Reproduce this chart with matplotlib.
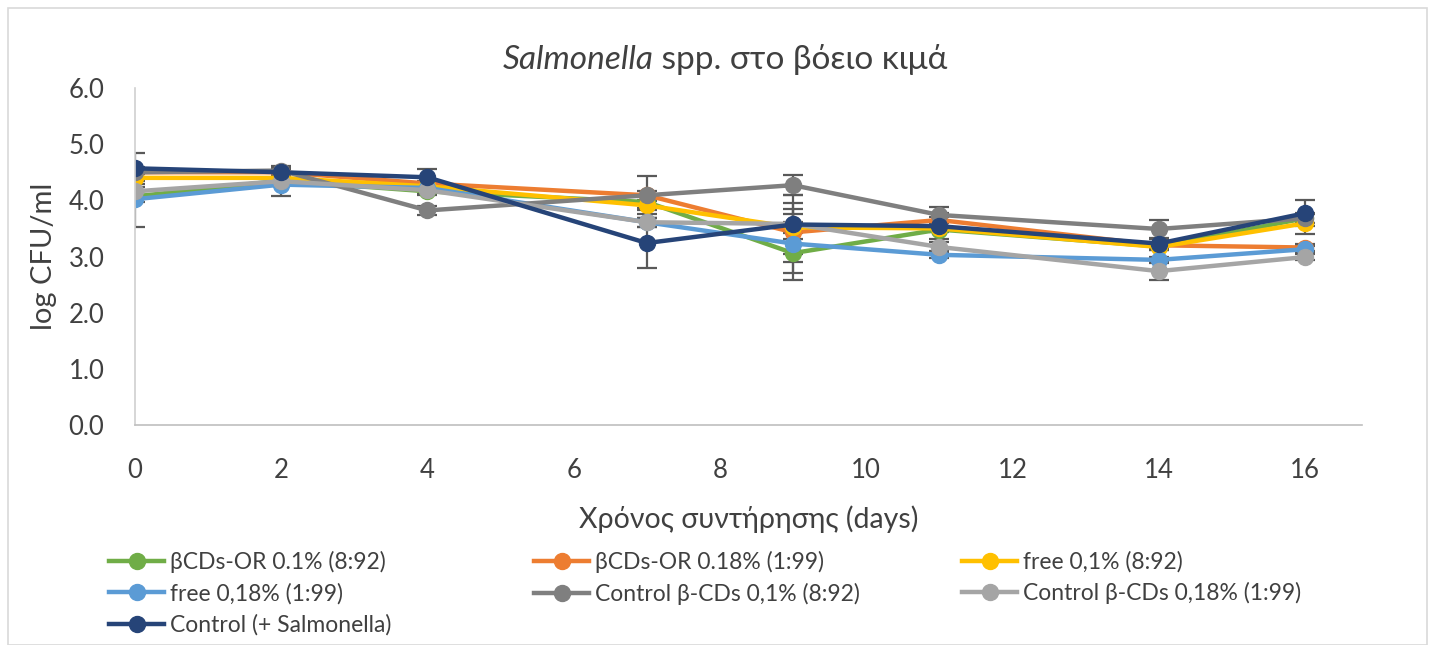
import matplotlib
matplotlib.use("Agg")
import matplotlib.pyplot as plt
from matplotlib.patches import Rectangle
from matplotlib.lines import Line2D

plt.rcParams["font.family"] = ["Lato", "DejaVu Sans"]

days = [0, 2, 4, 7, 9, 11, 14, 16]

labels = [
    "βCDs-OR 0.1% (8:92)",
    "βCDs-OR 0.18% (1:99)",
    "free 0,1% (8:92)",
    "free 0,18% (1:99)",
    "Control β-CDs 0,1% (8:92)",
    "Control β-CDs 0,18% (1:99)",
    "Control (+ Salmonella)",
]

green = [4.07, 4.35, 4.16, 3.97, 3.06, 3.48, 3.18, 3.68]
orange = [4.50, 4.50, 4.30, 4.09, 3.43, 3.65, 3.20, 3.16]
yellow = [4.40, 4.40, 4.25, 3.91, 3.52, 3.50, 3.17, 3.59]
blue = [4.02, 4.28, 4.22, 3.61, 3.23, 3.03, 2.94, 3.13]
darkgray = [4.50, 4.53, 3.82, 4.09, 4.27, 3.74, 3.49, 3.68]
lightgray = [4.16, 4.34, 4.18, 3.61, 3.58, 3.17, 2.74, 2.99]
navy = [4.57, 4.50, 4.41, 3.24, 3.57, 3.54, 3.23, 3.77]

green_err = [0.10, 0.08, 0.06, 0.10, 0.48, 0.05, 0.06, 0.08]
orange_err = [0.08, 0.06, 0.05, 0.08, 0.52, 0.06, 0.05, 0.06]
yellow_err = [0.06, 0.05, 0.05, 0.08, 0.10, 0.05, 0.05, 0.19]
blue_err = [0.50, 0.21, 0.05, 0.08, 0.53, 0.05, 0.06, 0.06]
darkgray_err = [0.10, 0.08, 0.08, 0.34, 0.18, 0.14, 0.16, 0.08]
lightgray_err = [0.08, 0.06, 0.06, 0.08, 0.26, 0.08, 0.16, 0.05]
navy_err = [0.28, 0.10, 0.14, 0.45, 0.52, 0.23, 0.08, 0.23]

series = [green, orange, yellow, blue, darkgray, lightgray, navy]
errors = [green_err, orange_err, yellow_err, blue_err, darkgray_err, lightgray_err, navy_err]
colors = ["#70AD47", "#ED7D31", "#FFC000", "#5B9BD5", "#7F7F7F", "#A5A5A5", "#264478"]

fig = plt.figure(figsize=(14.29, 6.45), dpi=100)
ax = fig.add_axes([0.0945, 0.341, 0.8585, 0.5226])

for vals, err, col in zip(series, errors, colors):
    ax.errorbar(days, vals, yerr=err, color=col, lw=3.2, marker="o", ms=11.5,
                ecolor="#595959", elinewidth=1.6, capsize=7, capthick=1.6)

ax.set_xlim(0, 16.78)
ax.set_ylim(0, 6)
ax.set_xticks([0, 2, 4, 6, 8, 10, 12, 14, 16])
ax.set_yticks([0, 1, 2, 3, 4, 5, 6])
ax.set_yticklabels([f"{v:.1f}" for v in [0, 1, 2, 3, 4, 5, 6]])
ax.tick_params(axis="both", length=0, labelsize=18.5, labelcolor="#404040")
ax.tick_params(axis="x", pad=24)
ax.tick_params(axis="y", pad=22)
for side in ["top", "right"]:
    ax.spines[side].set_visible(False)
ax.spines["left"].set_color("#D0D0D0")
ax.spines["bottom"].set_color("#BFBFBF")
ax.spines["left"].set_linewidth(1.2)
ax.spines["bottom"].set_linewidth(1.2)

ax.set_xlabel("Χρόνος συντήρησης (days)", fontsize=20.5, color="#404040", labelpad=16)
ax.set_ylabel("log CFU/ml", fontsize=21, color="#404040", labelpad=8)

# title: italic genus name followed by upright text, centred as a whole
t1 = fig.text(0.5, 1 - 60 / 645, "Salmonella", fontsize=24, style="italic",
              color="#404040", ha="left", va="center")
t2 = ax.annotate(" spp. στο βόειο κιμά", xy=(1, 0), xycoords=t1, fontsize=24,
                 color="#404040", ha="left", va="bottom", annotation_clip=False)
fig.canvas.draw()
r = fig.canvas.get_renderer()
w = t1.get_window_extent(r).width + t2.get_window_extent(r).width
t1.set_x((725 - w / 2) / 1429)

# legend laid out row by row in three columns
handles = [Line2D([], [], color=c, lw=3.2, marker="o", ms=11.5) for c in colors]
col_x = [100, 525, 953]
for ci in range(3):
    idx = [i for i in range(len(labels)) if i % 3 == ci]
    fig.legend([handles[i] for i in idx], [labels[i] for i in idx],
               loc="upper left", bbox_to_anchor=(col_x[ci] / 1429, 1 - 542 / 645),
               frameon=False, fontsize=16.5, handlelength=2.4, handletextpad=0.25,
               labelspacing=0.42, labelcolor="#404040", borderaxespad=0)

fig.add_artist(Rectangle((8 / 1429, 0.0), 1419 / 1429, 1 - 8 / 645,
                         transform=fig.transFigure, fill=False,
                         edgecolor="#D9D9D9", lw=1.2))

fig.savefig("out.png", dpi=100)
